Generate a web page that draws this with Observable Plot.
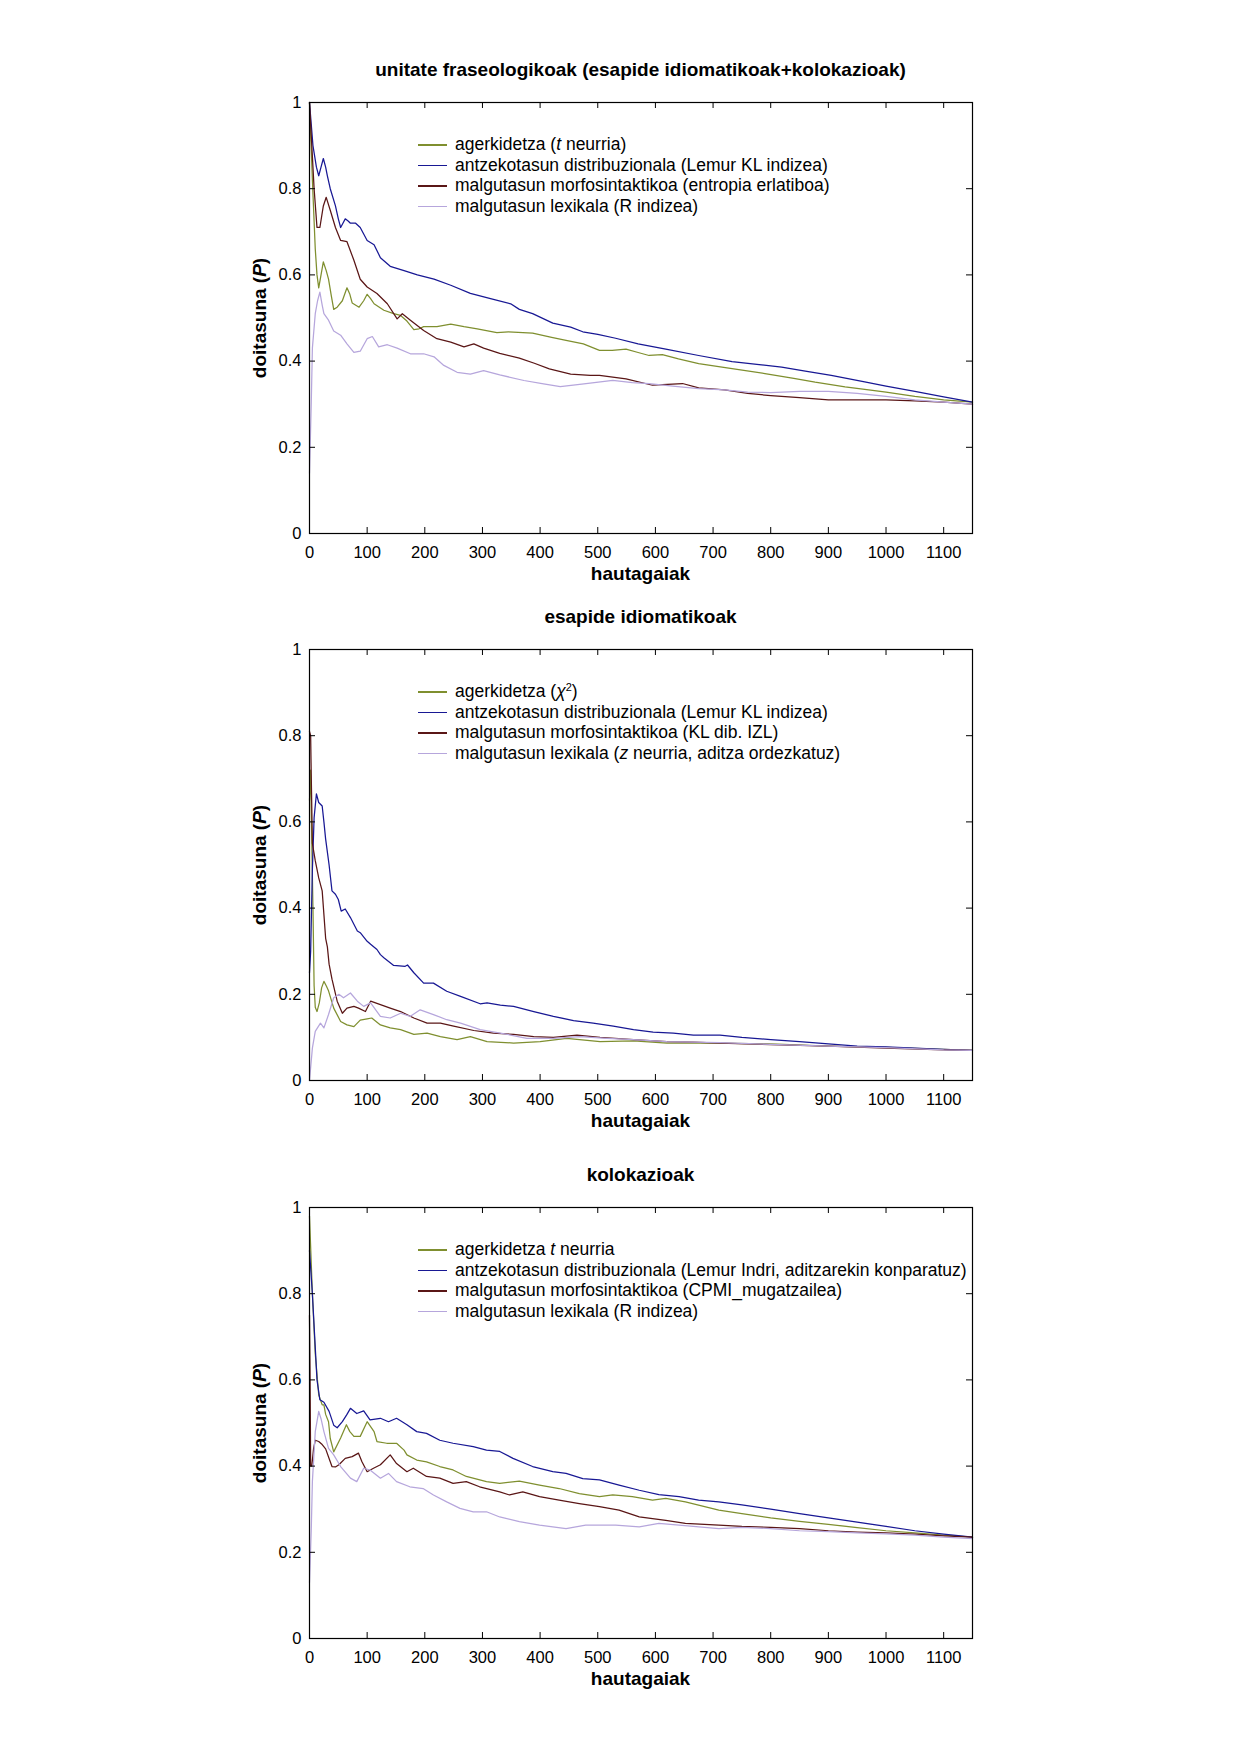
<!DOCTYPE html>
<html>
<head>
<meta charset="utf-8">
<script src="https://cdn.jsdelivr.net/npm/d3@7"></script>
<script src="https://cdn.jsdelivr.net/npm/@observablehq/plot@0.6"></script>
<style>
  body { margin: 0; background: #fff; }
  #page { position: relative; width: 1240px; height: 1755px; font-family: "Liberation Sans", Arial, sans-serif; color: #000; overflow: hidden; }
  .svgwrap { position: absolute; left: 0; }
  .title { position: absolute; left: 309px; width: 663px; text-align: center; font-weight: bold; font-size: 19px; line-height: 1; transform: translateY(-50%); }
  .xlabel { position: absolute; left: 309px; width: 663px; text-align: center; font-weight: bold; font-size: 19px; line-height: 1; transform: translateY(-50%); }
  .ylabel { position: absolute; left: 259px; font-weight: bold; font-size: 19px; line-height: 1; white-space: nowrap; transform: translate(-50%, -50%) rotate(-90deg); }
  .legend { position: absolute; left: 418px; font-size: 17.5px; line-height: 1; }
  .legend .row { position: relative; height: 20.5px; display: flex; align-items: center; white-space: nowrap; }
  .legend .sw { width: 29px; height: 1.4px; margin-right: 8px; }
  sup { font-size: 11px; vertical-align: 6px; line-height: 0; }
</style>
</head>
<body>
<div id="page"></div>
<script>
// ---------- data ----------
const xTicks = [0, 100, 200, 300, 400, 500, 600, 700, 800, 900, 1000, 1100];
const yTicks = [0, 0.2, 0.4, 0.6, 0.8, 1];
const xMax = 1150;

const titles = [
  "unitate fraseologikoak (esapide idiomatikoak+kolokazioak)",
  "esapide idiomatikoak",
  "kolokazioak"
];
const xLabel = "hautagaiak";
const yLabelHtml = "doitasuna (<i>P</i>)";

const legends = [
  ["agerkidetza (<i>t</i> neurria)",
   "antzekotasun distribuzionala (Lemur KL indizea)",
   "malgutasun morfosintaktikoa (entropia erlatiboa)",
   "malgutasun lexikala (R indizea)"],
  ["agerkidetza (<i>χ</i><sup>2</sup>)",
   "antzekotasun distribuzionala (Lemur KL indizea)",
   "malgutasun morfosintaktikoa (KL dib. IZL)",
   "malgutasun lexikala (<i>z</i> neurria, aditza ordezkatuz)"],
  ["agerkidetza <i>t</i> neurria",
   "antzekotasun distribuzionala (Lemur Indri, aditzarekin konparatuz)",
   "malgutasun morfosintaktikoa (CPMI_mugatzailea)",
   "malgutasun lexikala (R indizea)"]
];

// panel 1: unitate fraseologikoak
const p1_agerkidetza = [[0,1.0],[5,0.82],[10,0.66],[13,0.60],[16,0.57],[20,0.60],[24,0.63],[29,0.61],[33,0.59],[38,0.55],[42,0.52],[48,0.525],[57,0.54],[65,0.57],[70,0.555],[74,0.535],[86,0.525],[94,0.54],[100,0.555],[106,0.545],[112,0.533],[129,0.518],[146,0.51],[158,0.506],[169,0.493],[181,0.473],[190,0.475],[198,0.48],[221,0.48],[245,0.486],[268,0.48],[291,0.475],[325,0.466],[345,0.468],[387,0.465],[420,0.455],[445,0.448],[475,0.44],[503,0.425],[525,0.425],[549,0.428],[570,0.42],[589,0.413],[612,0.415],[640,0.405],[675,0.394],[730,0.383],[790,0.371],[840,0.36],[877,0.351],[929,0.34],[970,0.333],[1000,0.328],[1050,0.318],[1100,0.31],[1150,0.305]];
const p1_antzekotasun = [[0,1.0],[3,0.95],[6,0.90],[12,0.85],[16,0.83],[20,0.85],[24,0.87],[28,0.85],[31,0.83],[36,0.80],[45,0.76],[50,0.73],[54,0.71],[58,0.72],[62,0.73],[67,0.725],[71,0.72],[80,0.72],[88,0.71],[94,0.695],[100,0.68],[112,0.67],[123,0.64],[140,0.62],[164,0.61],[187,0.60],[216,0.59],[245,0.576],[279,0.557],[314,0.545],[349,0.533],[364,0.52],[387,0.51],[422,0.488],[453,0.479],[474,0.468],[500,0.462],[531,0.453],[570,0.44],[618,0.428],[675,0.413],[733,0.399],[780,0.392],[819,0.386],[860,0.377],[905,0.367],[963,0.352],[1000,0.342],[1050,0.33],[1100,0.317],[1150,0.305]];
const p1_morfosintaktikoa = [[0,1.0],[4,0.90],[8,0.80],[13,0.71],[18,0.71],[24,0.76],[29,0.78],[36,0.75],[45,0.71],[54,0.68],[65,0.677],[77,0.634],[88,0.59],[100,0.572],[117,0.557],[135,0.533],[152,0.498],[161,0.51],[175,0.495],[198,0.471],[221,0.452],[245,0.444],[268,0.433],[285,0.44],[302,0.43],[330,0.418],[364,0.407],[390,0.395],[416,0.382],[453,0.37],[487,0.367],[503,0.367],[549,0.359],[595,0.344],[647,0.348],[675,0.338],[720,0.333],[760,0.325],[800,0.32],[850,0.315],[900,0.31],[950,0.31],[1000,0.31],[1050,0.308],[1100,0.305],[1150,0.30]];
const p1_lexikala = [[0,0.14],[3,0.30],[5,0.43],[10,0.51],[14,0.54],[18,0.56],[22,0.53],[25,0.51],[33,0.495],[42,0.47],[54,0.46],[65,0.44],[77,0.42],[88,0.423],[100,0.452],[109,0.457],[120,0.433],[135,0.438],[152,0.43],[175,0.417],[198,0.417],[216,0.41],[233,0.39],[256,0.374],[279,0.37],[302,0.378],[330,0.368],[372,0.355],[406,0.347],[435,0.341],[476,0.347],[526,0.355],[560,0.35],[589,0.348],[630,0.342],[675,0.336],[720,0.333],[760,0.328],[800,0.327],[850,0.33],[900,0.33],[950,0.325],[1000,0.318],[1050,0.31],[1100,0.305],[1150,0.30]];

// panel 2: esapide idiomatikoak
const p2_agerkidetza = [[0,0.65],[2,0.72],[4,0.55],[6,0.40],[8,0.22],[10,0.17],[13,0.16],[17,0.18],[21,0.215],[25,0.23],[29,0.22],[33,0.208],[42,0.168],[54,0.137],[65,0.129],[77,0.125],[88,0.14],[100,0.143],[108,0.145],[123,0.129],[140,0.122],[158,0.118],[181,0.107],[204,0.11],[227,0.102],[256,0.095],[279,0.102],[308,0.09],[354,0.087],[400,0.09],[446,0.098],[504,0.09],[562,0.092],[620,0.087],[712,0.087],[800,0.085],[900,0.08],[1000,0.077],[1100,0.072],[1150,0.07]];
const p2_antzekotasun = [[0,0.25],[2,0.30],[5,0.49],[8,0.61],[12,0.665],[16,0.645],[22,0.637],[25,0.60],[28,0.56],[34,0.50],[39,0.44],[45,0.432],[50,0.42],[55,0.393],[62,0.398],[71,0.378],[83,0.347],[88,0.343],[100,0.323],[106,0.316],[117,0.304],[123,0.292],[129,0.285],[146,0.267],[166,0.265],[170,0.268],[181,0.25],[198,0.226],[215,0.226],[238,0.207],[262,0.195],[296,0.178],[308,0.18],[331,0.175],[354,0.172],[389,0.16],[423,0.149],[458,0.139],[492,0.133],[527,0.126],[562,0.118],[596,0.112],[631,0.11],[666,0.105],[712,0.105],[750,0.1],[800,0.095],[850,0.09],[900,0.085],[950,0.08],[1000,0.078],[1050,0.075],[1100,0.072],[1150,0.07]];
const p2_morfosintaktikoa = [[0,0.81],[2,0.80],[3,0.71],[5,0.55],[10,0.51],[16,0.47],[22,0.44],[28,0.33],[31,0.31],[34,0.27],[39,0.235],[48,0.184],[57,0.156],[65,0.168],[77,0.172],[85,0.168],[97,0.16],[106,0.184],[123,0.176],[140,0.168],[158,0.16],[181,0.145],[204,0.133],[227,0.133],[250,0.126],[285,0.116],[319,0.11],[354,0.107],[389,0.102],[423,0.1],[464,0.105],[504,0.1],[562,0.095],[620,0.09],[666,0.089],[712,0.087],[800,0.083],[900,0.08],[1000,0.075],[1100,0.071],[1150,0.07]];
const p2_lexikala = [[0,0.0],[5,0.075],[10,0.114],[19,0.133],[25,0.122],[33,0.153],[42,0.192],[51,0.2],[59,0.192],[71,0.203],[83,0.184],[94,0.172],[106,0.18],[123,0.149],[140,0.145],[158,0.156],[175,0.149],[192,0.164],[215,0.153],[238,0.141],[262,0.133],[296,0.118],[331,0.11],[377,0.098],[423,0.098],[469,0.102],[516,0.098],[562,0.095],[620,0.09],[712,0.088],[800,0.084],[900,0.08],[1000,0.076],[1100,0.071],[1150,0.07]];

// panel 3: kolokazioak
const p3_agerkidetza = [[0,0.98],[5,0.80],[10,0.66],[16,0.565],[22,0.542],[25,0.542],[28,0.52],[33,0.503],[36,0.464],[42,0.433],[54,0.465],[64,0.496],[70,0.48],[77,0.469],[88,0.469],[100,0.503],[112,0.48],[117,0.457],[134,0.453],[151,0.453],[164,0.437],[169,0.426],[186,0.414],[203,0.41],[226,0.399],[249,0.391],[272,0.376],[307,0.364],[330,0.36],[364,0.365],[399,0.356],[433,0.348],[468,0.336],[503,0.329],[526,0.333],[560,0.329],[595,0.321],[618,0.325],[652,0.317],[710,0.298],[750,0.29],[800,0.28],[850,0.272],[900,0.265],[950,0.257],[1000,0.25],[1050,0.245],[1100,0.24],[1150,0.235]];
const p3_antzekotasun = [[0,0.90],[5,0.80],[9,0.70],[13,0.60],[18,0.554],[25,0.548],[34,0.527],[42,0.495],[48,0.489],[57,0.503],[65,0.52],[71,0.534],[82,0.522],[94,0.528],[105,0.507],[123,0.511],[137,0.503],[151,0.511],[169,0.496],[186,0.48],[203,0.476],[226,0.46],[249,0.453],[284,0.445],[307,0.437],[330,0.434],[353,0.418],[387,0.399],[422,0.387],[445,0.383],[474,0.371],[503,0.368],[537,0.356],[572,0.344],[606,0.334],[641,0.329],[675,0.321],[710,0.317],[750,0.31],[800,0.30],[850,0.29],[900,0.28],[950,0.27],[1000,0.26],[1050,0.25],[1100,0.242],[1150,0.235]];
const p3_morfosintaktikoa = [[0,0.75],[1,0.6],[2,0.40],[4,0.40],[7,0.44],[10,0.46],[16,0.457],[22,0.45],[28,0.44],[36,0.41],[39,0.399],[45,0.398],[51,0.403],[62,0.418],[74,0.422],[85,0.43],[91,0.41],[100,0.387],[111,0.395],[123,0.403],[140,0.426],[151,0.406],[169,0.387],[180,0.395],[203,0.376],[226,0.372],[249,0.36],[272,0.364],[295,0.352],[330,0.34],[347,0.333],[370,0.34],[399,0.329],[433,0.321],[468,0.313],[503,0.306],[537,0.298],[572,0.282],[618,0.274],[652,0.267],[710,0.263],[750,0.26],[800,0.258],[850,0.255],[900,0.25],[950,0.247],[1000,0.245],[1050,0.242],[1100,0.238],[1150,0.235]];
const p3_lexikala = [[0,0.13],[3,0.25],[5,0.364],[10,0.48],[16,0.527],[20,0.51],[25,0.48],[33,0.441],[42,0.426],[54,0.399],[71,0.372],[82,0.364],[94,0.395],[105,0.391],[123,0.372],[137,0.383],[151,0.364],[174,0.352],[197,0.348],[215,0.333],[238,0.317],[261,0.302],[284,0.294],[307,0.294],[330,0.282],[364,0.271],[399,0.263],[445,0.255],[479,0.263],[531,0.263],[572,0.259],[606,0.267],[641,0.263],[710,0.255],[750,0.258],[800,0.255],[850,0.25],[900,0.248],[950,0.245],[1000,0.243],[1050,0.24],[1100,0.235],[1150,0.232]];

const panelSeries = [
  [p1_agerkidetza, p1_antzekotasun, p1_morfosintaktikoa, p1_lexikala],
  [p2_agerkidetza, p2_antzekotasun, p2_morfosintaktikoa, p2_lexikala],
  [p3_agerkidetza, p3_antzekotasun, p3_morfosintaktikoa, p3_lexikala]
];

// ---------- styling / layout ----------
const colors = ["#7f8f2f", "#181894", "#5a1616", "#b6a6dc"];
const plotLeft = 309, plotRight = 972;
const panelTops = [102, 649, 1207];
const innerH = 431;
const innerW = plotRight - plotLeft;
const mT = 10, mB = 50;
const tickLen = 6;

const page = document.getElementById("page");

panelTops.forEach((top, i) => {
  const svg = Plot.plot({
    width: 1240,
    height: innerH + mT + mB,
    marginLeft: plotLeft,
    marginRight: 1240 - plotRight,
    marginTop: mT,
    marginBottom: mB,
    style: { fontFamily: '"Liberation Sans", Arial, sans-serif', fontSize: "16.5px", color: "#000", background: "transparent", overflow: "visible" },
    x: { domain: [0, xMax], ticks: xTicks, tickSize: 0, tickPadding: 13, label: null, tickFormat: d => String(d) },
    y: { domain: [0, 1], ticks: yTicks, tickSize: 0, tickPadding: 8, label: null, tickFormat: d => String(d) },
    marks: [
      ...panelSeries[i].map((s, k) => Plot.line(s, { x: d => d[0], y: d => d[1], stroke: colors[k], strokeWidth: 1.25 })),
      Plot.tickX(xTicks, { x: d => d, insetTop: innerH - tickLen, stroke: "#000" }),
      Plot.tickX(xTicks, { x: d => d, insetBottom: innerH - tickLen, stroke: "#000" }),
      Plot.tickY(yTicks, { y: d => d, insetRight: innerW - tickLen, stroke: "#000" }),
      Plot.tickY(yTicks, { y: d => d, insetLeft: innerW - tickLen, stroke: "#000" }),
      Plot.frame({ stroke: "#000", strokeWidth: 1.2 })
    ]
  });
  const wrap = document.createElement("div");
  wrap.className = "svgwrap";
  wrap.style.top = (top - mT) + "px";
  wrap.appendChild(svg);
  page.appendChild(wrap);

  const t = document.createElement("div");
  t.className = "title";
  t.style.top = (top - 33) + "px";
  t.textContent = titles[i];
  page.appendChild(t);

  const xl = document.createElement("div");
  xl.className = "xlabel";
  xl.style.top = (top + innerH + 40) + "px";
  xl.textContent = xLabel;
  page.appendChild(xl);

  const yl = document.createElement("div");
  yl.className = "ylabel";
  yl.style.top = (top + innerH / 2) + "px";
  yl.innerHTML = yLabelHtml;
  page.appendChild(yl);

  const lg = document.createElement("div");
  lg.className = "legend";
  lg.style.top = (top + 43 - 10.25) + "px";
  legends[i].forEach((txt, k) => {
    const row = document.createElement("div");
    row.className = "row";
    row.innerHTML = `<span class="sw" style="background:${colors[k]}"></span><span>${txt}</span>`;
    lg.appendChild(row);
  });
  page.appendChild(lg);
});
</script>
</body>
</html>
